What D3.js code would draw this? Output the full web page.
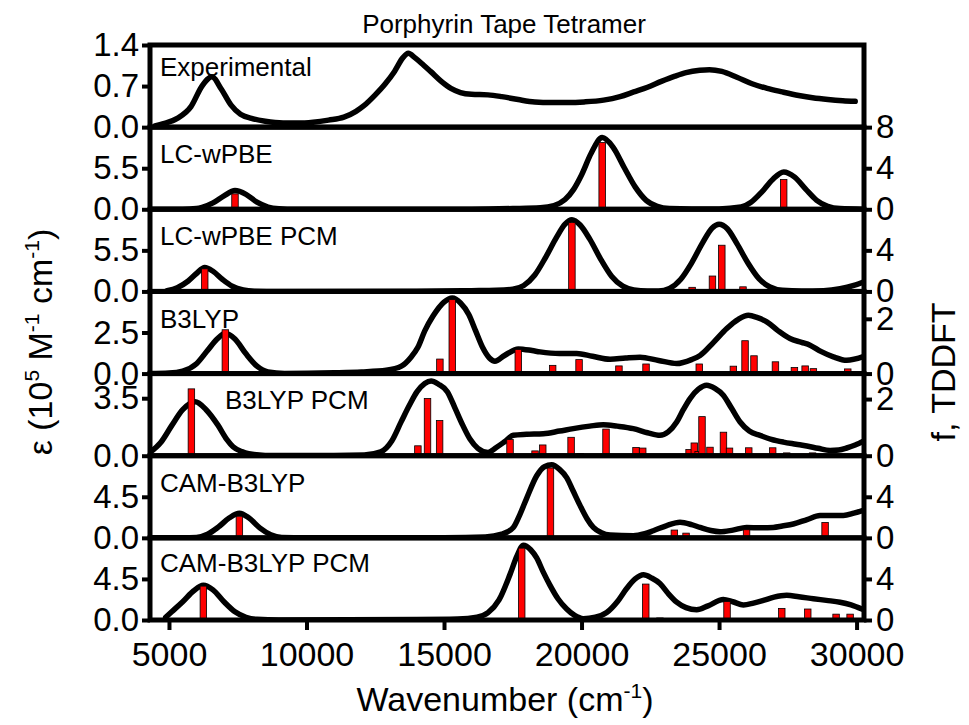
<!DOCTYPE html>
<html><head><meta charset="utf-8">
<script src="https://cdn.jsdelivr.net/npm/d3@7"></script>
<style>
body{margin:0;background:#fff;}
svg{display:block;}
text{font-family:"Liberation Sans",Arial,sans-serif;fill:#000;}
</style>
</head><body>
<svg id="chart" width="969" height="725"></svg>
<script>
// ---------------- DATA ----------------
const chartTitle = "Porphyrin Tape Tetramer";
const panelNames = ["Experimental","LC-wPBE","LC-wPBE PCM","B3LYP","B3LYP PCM","CAM-B3LYP","CAM-B3LYP PCM"];
const leftMax  = [1.4, 11, 11, 5, 5, 9, 9];
const rightMax = [null, 8, 8, 3, 2.9, 8, 8];
const leftTicks  = [[0,0.7,1.4],[0,5.5],[0,5.5],[0,2.5],[0,3.5],[0,4.5],[0,4.5]];
const rightTicks = [[],[0,4,8],[0,4],[0,2],[0,2],[0,4],[0,4]];
const xTicks = [5000,10000,15000,20000,25000,30000];

// spectra: [wavenumber, epsilon (1e5 M^-1 cm^-1)]
const expCurve = [[4490,0.02],[4800,0.06],[5300,0.15],[5800,0.35],[6200,0.7],[6560,0.86],[6900,0.65],[7250,0.38],[7600,0.22],[8000,0.15],[8500,0.1],[9150,0.07],[9700,0.07],[10240,0.085],[10800,0.12],[11360,0.17],[11800,0.27],[12100,0.37],[12500,0.55],[12850,0.73],[13200,0.95],[13500,1.18],[13700,1.26],[13950,1.18],[14250,1.06],[14510,0.95],[14900,0.78],[15250,0.66],[15600,0.59],[16000,0.56],[16600,0.55],[17100,0.52],[17700,0.47],[18300,0.43],[18900,0.42],[19500,0.42],[20100,0.43],[20800,0.46],[21400,0.52],[21900,0.6],[22400,0.68],[22900,0.78],[23400,0.87],[23800,0.93],[24300,0.97],[24650,0.98],[25100,0.95],[25650,0.85],[26200,0.74],[26750,0.66],[27300,0.6],[27900,0.54],[28400,0.5],[28960,0.47],[29500,0.45],[29950,0.44]];

const lcCurve = [[4310,0],[5500,0.01],[6000,0.1],[6200,0.25],[6600,0.85],[7000,1.8],[7400,2.5],[7800,2.0],[8200,0.95],[8600,0.3],[9000,0.08],[9600,0.01],[12000,0],[16000,0.02],[17500,0.1],[18500,0.2],[19000,0.5],[19400,1.3],[19700,2.6],[20000,4.6],[20350,7.5],[20750,9.6],[21150,8.3],[21550,5.6],[21950,3.0],[22350,1.2],[22750,0.4],[23200,0.1],[24000,0.05],[25000,0.05],[25800,0.3],[26150,0.9],[26550,2.3],[26950,4.0],[27350,5.0],[27750,4.3],[28150,2.7],[28550,1.2],[28950,0.4],[29400,0.1],[30270,0.02]];
const lcSticks = [[7400,1.5],[20750,6.5],[27350,2.9]];

const lcPcmCurve = [[4930,0.1],[5300,0.5],[5700,1.4],[6000,2.4],[6300,3.2],[6600,2.7],[6950,1.6],[7300,0.7],[7700,0.2],[8100,0.04],[9000,0],[14000,0.02],[16000,0.1],[16900,0.15],[17500,0.3],[17900,0.8],[18300,2.2],[18700,4.6],[19100,7.3],[19400,9.0],[19650,9.6],[19950,8.9],[20300,7.0],[20700,4.3],[21100,2.0],[21500,0.7],[21900,0.2],[22400,0.05],[22800,0.05],[23200,0.4],[23600,1.6],[24000,3.8],[24400,6.5],[24750,8.5],[25000,9.0],[25300,8.4],[25650,6.4],[26050,3.8],[26450,1.7],[26850,0.6],[27300,0.15],[28000,0.05],[28800,0.1],[29400,0.35],[29900,0.8],[30270,1.3]];
const lcPcmSticks = [[6300,2.2],[19650,6.7],[24020,0.4],[24760,1.5],[25100,4.5],[25870,0.45]];

const b3Curve = [[4310,0],[5000,0.03],[5500,0.15],[6000,0.6],[6400,1.4],[6750,2.1],[7050,2.45],[7400,2.1],[7800,1.2],[8200,0.45],[8600,0.1],[9200,0.01],[11000,0.05],[12000,0.1],[12900,0.2],[13450,0.45],[13800,1.0],[14050,1.6],[14300,2.6],[14600,3.5],[15000,4.35],[15300,4.6],[15600,4.3],[15900,3.6],[16150,2.6],[16400,1.6],[16650,0.95],[16850,0.75],[17200,1.1],[17700,1.5],[18200,1.4],[18490,1.32],[19200,1.22],[19825,1.22],[20400,1.05],[21036,0.87],[21600,0.95],[22127,1.0],[22800,0.8],[23460,0.61],[24000,0.85],[24309,1.1],[24800,1.9],[25280,2.74],[25700,3.3],[26066,3.55],[26400,3.4],[26735,3.15],[27150,2.6],[27580,2.13],[28000,1.9],[28309,1.73],[28700,1.35],[29157,1.02],[29643,0.81],[30270,1.05]];
const b3Sticks = [[7050,1.6],[14850,0.53],[15300,2.7],[17700,0.88],[18950,0.3],[19910,0.51],[21360,0.28],[22345,0.35],[24280,0.35],[25520,0.27],[25945,1.2],[26270,0.65],[27050,0.43],[27740,0.22],[28130,0.28],[28430,0.18],[29680,0.17]];

const b3PcmCurve = [[4310,0.2],[4700,0.8],[5110,1.86],[5500,2.8],[5950,3.28],[6350,2.8],[6780,1.86],[7100,1.0],[7330,0.55],[7650,0.25],[7900,0.12],[8500,0.02],[11000,0.02],[12100,0.05],[12700,0.24],[13100,0.9],[13440,2.06],[13750,3.1],[14020,3.9],[14300,4.4],[14530,4.55],[14800,4.35],[15120,3.9],[15400,2.9],[15680,1.86],[15950,1.0],[16230,0.45],[16600,0.2],[16900,0.5],[17200,0.85],[17520,1.24],[18000,1.3],[18610,1.34],[19200,1.5],[19700,1.65],[20300,1.8],[20790,1.89],[21300,1.8],[21880,1.65],[22400,1.4],[22850,1.24],[23150,1.45],[23460,2.05],[23700,2.8],[23945,3.48],[24250,4.05],[24550,4.29],[24850,4.1],[25155,3.68],[25450,2.9],[25765,2.05],[26100,1.5],[26490,1.24],[26900,1.0],[27340,0.83],[27800,0.7],[28190,0.59],[28600,0.45],[29036,0.32],[29350,0.35],[29640,0.47],[29950,0.65],[30270,0.9]];
const b3PcmSticks = [[5815,2.36],[12670,0.05],[14050,0.35],[14400,2.02],[14840,1.24],[17400,0.57],[18310,0.17],[18590,0.38],[19620,0.65],[19950,0.08],[20890,0.94],[21980,0.29],[22225,0.27],[23130,0.05],[23910,0.22],[24100,0.45],[24240,0.15],[24380,1.38],[24670,0.3],[25160,0.83],[25380,0.27],[26080,0.28],[26950,0.28],[27460,0.1],[28400,0.1]];

const camCurve = [[4310,0],[5500,0],[6000,0.05],[6400,0.4],[6800,1.2],[7200,2.2],[7560,2.7],[7900,2.2],[8300,1.1],[8700,0.35],[9100,0.05],[10000,0],[15000,0.02],[16500,0.1],[17100,0.4],[17520,1.14],[17750,2.5],[18000,4.3],[18370,6.8],[18650,7.8],[18915,8.0],[19200,7.5],[19460,6.6],[19700,5.1],[19945,3.56],[20200,2.1],[20430,1.14],[20700,0.6],[21036,0.3],[21880,0.22],[22300,0.45],[22610,0.78],[23100,1.35],[23580,1.7],[24000,1.45],[24310,1.14],[24700,0.8],[25036,0.67],[25500,0.85],[26000,1.14],[26500,1.1],[26970,1.14],[27300,1.3],[27700,1.52],[28200,2.0],[28670,2.44],[29100,2.45],[29520,2.44],[29900,2.7],[30270,3.05]];
const camSticks = [[7560,2.1],[18870,6.8],[23375,0.76],[23800,0.46],[26000,0.79],[27720,0.05],[28855,1.5]];

const camPcmCurve = [[4880,0.3],[5100,0.9],[5500,2.0],[5900,3.2],[6250,3.8],[6600,3.3],[7000,2.0],[7400,0.9],[7800,0.3],[8200,0.07],[9000,0.01],[14000,0.05],[15500,0.1],[16200,0.3],[16600,0.8],[17000,2.2],[17400,5.0],[17650,7.0],[17885,8.2],[18150,7.7],[18370,6.8],[18600,5.3],[18855,3.8],[19150,2.3],[19460,1.2],[19750,0.5],[20065,0.15],[20500,0.3],[20915,0.82],[21300,2.0],[21640,3.45],[21950,4.5],[22250,4.95],[22550,4.6],[22850,4.0],[23150,2.9],[23460,1.95],[23800,1.35],[24190,1.12],[24600,1.55],[25155,2.25],[25500,2.0],[25885,1.65],[26250,1.85],[26610,2.14],[27000,2.5],[27460,2.7],[27900,2.55],[28430,2.33],[28900,2.15],[29400,1.95],[29800,1.65],[30190,1.2]];
const camPcmSticks = [[6250,3.3],[17825,7.0],[22335,3.5],[22850,0.2],[23500,0.1],[25290,1.8],[27280,1.13],[28225,1.07],[29255,0.57],[29765,0.57]];

const curves = [expCurve, lcCurve, lcPcmCurve, b3Curve, b3PcmCurve, camCurve, camPcmCurve];
const sticks = [[], lcSticks, lcPcmSticks, b3Sticks, b3PcmSticks, camSticks, camPcmSticks];

// ---------------- LAYOUT ----------------
const L = 150, R = 864, T = 45, B = 620;
const labelPos = [[160,31],[160,36],[160,36],[160,37],[225,35],[160,36],[160,34]];
const svg = d3.select("#chart");

const x = d3.scaleLinear().domain([4310, 30270]).range([L, R]);
const band = d3.scaleBand().domain(d3.range(panelNames.length)).range([T, B]).paddingInner(0).paddingOuter(0);

const line = (ys) => d3.line().x(d => x(d[0])).y(d => ys(d[1])).curve(d3.curveMonotoneX);

const defs = svg.append("defs");

panelNames.forEach((name, i) => {
  const top = band(i), bot = band(i) + band.bandwidth();
  const yL = d3.scaleLinear().domain([0, leftMax[i]]).range([bot, top]);
  const g = svg.append("g");
  defs.append("clipPath").attr("id", "clip" + i)
    .append("rect").attr("x", L).attr("y", top).attr("width", R - L).attr("height", bot - top);
  const inner = g.append("g").attr("clip-path", `url(#clip${i})`);

  inner.append("path").datum(curves[i])
    .attr("d", line(yL))
    .attr("fill", "none").attr("stroke", "#000").attr("stroke-width", 5.5)
    .attr("stroke-linejoin", "round").attr("stroke-linecap", "round");

  if (rightMax[i] !== null) {
    const yR = d3.scaleLinear().domain([0, rightMax[i]]).range([bot, top]);
    inner.selectAll("rect.stick").data(sticks[i]).join("rect")
      .attr("class", "stick")
      .attr("x", d => x(d[0]) - 3.25).attr("width", 6.5)
      .attr("y", d => yR(d[1])).attr("height", d => yR(0) - yR(d[1]))
      .attr("fill", "#ff0000").attr("stroke", "#000").attr("stroke-width", 0.8);

    const ra = g.append("g").attr("transform", `translate(${R},0)`)
      .call(d3.axisRight(yR).tickValues(rightTicks[i]).tickSize(8).tickPadding(4).tickFormat(d3.format("d")));
    ra.select(".domain").remove();
    ra.selectAll(".tick line").attr("stroke", "#000").attr("stroke-width", 4);
    ra.selectAll(".tick text").attr("font-size", 33).attr("font-family", "Liberation Sans, Arial, sans-serif").attr("fill", "#000");
  }

  const la = g.append("g").attr("transform", `translate(${L},0)`)
    .call(d3.axisLeft(yL).tickValues(leftTicks[i]).tickSize(8).tickPadding(3).tickFormat(d3.format(".1f")));
  la.select(".domain").remove();
  la.selectAll(".tick line").attr("stroke", "#000").attr("stroke-width", 4);
  la.selectAll(".tick text").attr("font-size", 33).attr("font-family", "Liberation Sans, Arial, sans-serif").attr("fill", "#000");

  g.append("text").attr("x", labelPos[i][0]).attr("y", top + labelPos[i][1])
    .attr("font-size", 26).text(name);
});

// frames on top
panelNames.forEach((name, i) => {
  svg.append("rect").attr("x", L).attr("y", band(i)).attr("width", R - L).attr("height", band.bandwidth())
    .attr("fill", "none").attr("stroke", "#000").attr("stroke-width", 5);
});

// bottom axis
const xa = svg.append("g").attr("transform", `translate(0,${B})`)
  .call(d3.axisBottom(x).tickValues(xTicks).tickSize(10).tickPadding(12).tickFormat(d3.format("d")));
xa.select(".domain").remove();
xa.selectAll(".tick line").attr("stroke", "#000").attr("stroke-width", 4);
xa.selectAll(".tick text").attr("font-size", 34).attr("font-family", "Liberation Sans, Arial, sans-serif").attr("fill", "#000");

// titles
svg.append("text").attr("x", 504).attr("y", 33).attr("text-anchor", "middle").attr("font-size", 26).text(chartTitle);

const xt = svg.append("text").attr("x", 505).attr("y", 711).attr("text-anchor", "middle").attr("font-size", 34);
xt.append("tspan").text("Wavenumber (cm");
xt.append("tspan").attr("font-size", 21).attr("dy", -13).text("-1");
xt.append("tspan").attr("dy", 13).text(")");

const yt = svg.append("text").attr("transform", "translate(52,342) rotate(-90)").attr("text-anchor", "middle").attr("font-size", 34);
yt.append("tspan").text("ε (10");
yt.append("tspan").attr("font-size", 21).attr("dy", -13).text("5");
yt.append("tspan").attr("dy", 13).text(" M");
yt.append("tspan").attr("font-size", 21).attr("dy", -13).text("-1");
yt.append("tspan").attr("dy", 13).text(" cm");
yt.append("tspan").attr("font-size", 21).attr("dy", -13).text("-1");
yt.append("tspan").attr("dy", 13).text(")");

svg.append("text").attr("transform", "translate(955,372) rotate(-90)").attr("text-anchor", "middle").attr("font-size", 34).text("f, TDDFT");
</script>
</body></html>
